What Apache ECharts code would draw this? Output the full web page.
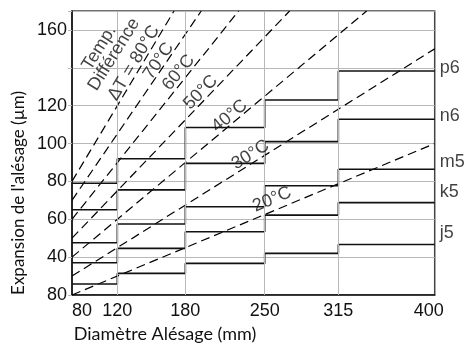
<!DOCTYPE html>
<html>
<head>
<meta charset="utf-8">
<script src="https://cdn.jsdelivr.net/npm/echarts@6/dist/echarts.min.js"></script>
<style>html,body{margin:0;padding:0;background:#fff;}#c{width:465px;height:344px;}</style>
</head>
<body>
<div id="c"></div>
<script>
// ---- data ----
const xEdges = [80, 120, 180, 250, 315, 400];
const xTicks = [80, 120, 180, 250, 315, 400];
const xGridLines = [120, 180, 250, 315];
const yTickValues = [20, 40, 60, 80, 100, 120, 160];
const yTickTexts = ['80', '40', '60', '80', '100', '120', '160'];

const toleranceNames = ['p6', 'n6', 'm5', 'k5', 'j5'];
const p6 = [79, 92, 108.5, 123, 138.3];
const n6 = [65, 75.5, 89.5, 101, 112.8];
const m5 = [47.6, 57.5, 66.6, 77.7, 86.4];
const k5 = [37, 44.6, 53.4, 62.2, 68.8];
const j5 = [25.8, 31.4, 36.7, 42, 46.7];
const toleranceValues = [p6, n6, m5, k5, j5];

const tempDiffs = [20, 30, 40, 50, 60, 70, 80];
const tempStartX = [80, 80, 80, 80, 80, 80, 80];
const tempStartY = [20, 30, 40, 50, 60, 70, 80];
const tempEndX = [400, 400, 340, 272, 227, 194, 170];
const tempEndY = [100, 150, 170, 170, 170, 170, 170];
const tempLabelTexts = ['20°C', '30°C', '40°C', '50°C', '60°C', '70°C', 'ΔT = 80°C'];

// ---- layout of annotations (positions in data space) ----
const tempLabelPos = [[256.5, 70.5], [237.5, 94], [219, 114.5], [193.5, 127], [174, 137.5], [156.5, 143.5], [134.5, 142.5]];
const tempLabelRot = [23, 32, 40, 46, 51, 56, 59];
const headerTexts = ['Temp.', 'Différence'];
const headerPos = [[104, 150.5], [117, 147]];
const headerRot = [58, 58];
const endLabelPos = [[400, 139.9], [400, 114.5], [400, 90], [400, 74.3], [400, 52.5]];

const tickFont = "'Liberation Sans', Arial, sans-serif";
const titleFont = "Lato, 'Open Sans', sans-serif";

const series = [];

// helper series: vertical grid lines
series.push({
  type: 'line', data: [[80, 20]], symbol: 'none', silent: true, z: 1,
  lineStyle: {opacity: 0},
  markLine: {
    silent: true, symbol: 'none', label: {show: false},
    lineStyle: {color: '#b8b8b8', type: 'solid', width: 1},
    data: xGridLines.map(v => ({xAxis: v}))
  }
});

// temperature dashed lines
tempDiffs.forEach((t, i) => {
  series.push({
    type: 'line', name: t + '°C', symbol: 'none', silent: true, z: 3,
    data: [[tempStartX[i], tempStartY[i]], [tempEndX[i], tempEndY[i]]],
    lineStyle: {color: '#000', width: 1.2, type: [9, 5]}
  });
});

// tolerance step lines
toleranceNames.forEach((nm, k) => {
  const vals = toleranceValues[k];
  const pts = xEdges.map((x, i) => [x, vals[Math.min(i, vals.length - 1)]]);
  series.push({
    type: 'line', name: nm, step: 'end', symbol: 'none', silent: true, z: 4,
    data: pts,
    lineStyle: {color: '#111', width: 1.6}
  });
});

// annotation labels
const annoData = [];
tempLabelTexts.forEach((t, i) => annoData.push({value: tempLabelPos[i], label: {formatter: t, rotate: tempLabelRot[i]}}));
headerTexts.forEach((t, i) => annoData.push({value: headerPos[i], label: {formatter: t, rotate: headerRot[i]}}));
series.push({
  type: 'scatter', symbolSize: 0, silent: true, z: 6, data: annoData,
  label: {show: true, position: 'inside', align: 'center', verticalAlign: 'middle',
    color: '#111', fontSize: 18, fontFamily: tickFont}
});
series.push({
  type: 'scatter', symbolSize: 0, silent: true, z: 6,
  data: toleranceNames.map((nm, i) => ({value: endLabelPos[i], label: {formatter: nm}})),
  label: {show: true, position: 'right', distance: 5, align: 'left', verticalAlign: 'middle',
    color: '#111', fontSize: 18, fontFamily: tickFont}
});

const chart = echarts.init(document.getElementById('c'), null, {renderer: 'canvas'});
chart.setOption({
  animation: false,
  backgroundColor: '#fff',
  grid: {left: 72, right: 30.3, top: 11, bottom: 49, containLabel: false, outerBoundsMode: 'none',
    show: true, borderColor: '#444', borderWidth: 1.5, backgroundColor: 'transparent'},
  xAxis: {
    type: 'value', min: 80, max: 400,
    axisLine: {show: true, lineStyle: {color: '#111', width: 1.5}},
    axisTick: {show: false},
    splitLine: {show: false},
    axisLabel: {
      customValues: xTicks, margin: 7, color: '#111', fontSize: 18, fontFamily: tickFont,
      alignMinLabel: 'left',
      formatter: v => (v === 400 ? '{m|' + v + '}' : String(v)),
      rich: {m: {fontSize: 18, fontFamily: tickFont, color: '#111', padding: [0, 12, 0, 0]}}
    }
  },
  yAxis: {
    type: 'value', min: 20, max: 170, interval: 20,
    axisLine: {show: true, lineStyle: {color: '#111', width: 1.5}},
    axisTick: {show: true, length: 4, lineStyle: {color: '#b8b8b8'}},
    splitLine: {show: true, lineStyle: {color: '#b8b8b8', width: 1}},
    axisLabel: {
      margin: 5, color: '#111', fontSize: 18, fontFamily: tickFont,
      formatter: v => { const i = yTickValues.indexOf(v); return i >= 0 ? yTickTexts[i] : ''; }
    }
  },
  graphic: [
    {type: 'text', x: 19, y: 193, rotation: Math.PI / 2,
      style: {text: "Expansion de l'alésage (µm)", fontSize: 17, fontFamily: titleFont, fill: '#111',
        textAlign: 'center', textVerticalAlign: 'middle'}},
    {type: 'text', x: 165, y: 334,
      style: {text: 'Diamètre Alésage (mm)', fontSize: 18, fontFamily: titleFont, fill: '#111',
        textAlign: 'center', textVerticalAlign: 'middle'}}
  ],
  series: series
});
</script>
</body>
</html>
